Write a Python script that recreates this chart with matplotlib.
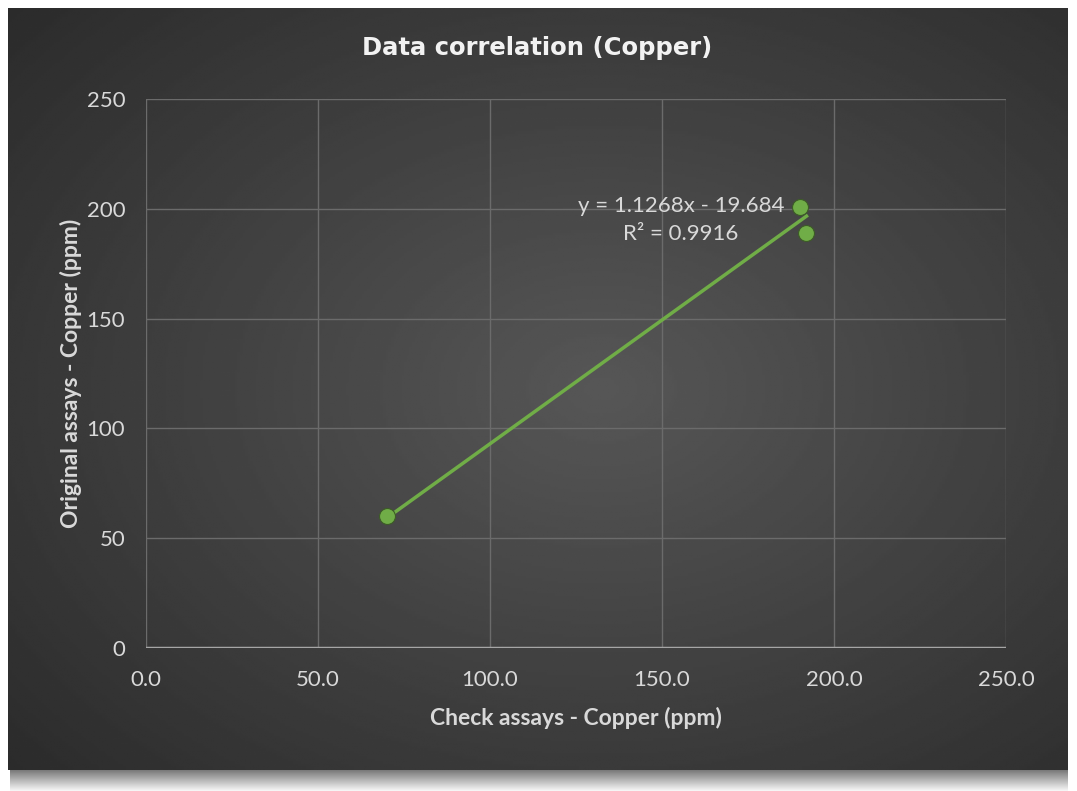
import numpy as np
import matplotlib
matplotlib.use("Agg")
import matplotlib.pyplot as plt

# check assays (x) vs original assays (y), copper ppm
check_cu = [70.0, 190.0, 192.0]
orig_cu = [60.0, 201.0, 189.0]
slope = 1.1268
intercept = -19.684
r2 = 0.9916
xticks = [0, 50, 100, 150, 200, 250]
yticks = [0, 50, 100, 150, 200, 250]

plt.rcParams['font.family'] = ['Lato', 'DejaVu Sans']

W, H = 1077, 791
fig = plt.figure(figsize=(W / 100, H / 100), dpi=100, facecolor="white")

# shadow strip below the chart
sh = fig.add_axes([10 / W, 0, 1058 / W, 22 / H])
sh.axis("off")
g = np.linspace(0.45, 0.97, 50)[:, None] * np.ones((1, 10))
sh.imshow(g, cmap="gray", vmin=0, vmax=1, aspect="auto", extent=[0, 1, 0, 1], origin="upper")

# dark chart background with radial gradient
bg = fig.add_axes([8 / W, 21 / H, 1060 / W, 762 / H])
bg.axis("off")
yy, xx = np.mgrid[0:1:300j, 0:1:400j]
rr = np.sqrt(((xx - 0.56) / 0.75) ** 2 + ((yy - 0.5) / 0.75) ** 2)
shade = 0.34 - 0.17 * np.clip(rr, 0, 1)
bg.imshow(shade, cmap="gray", vmin=0, vmax=1, aspect="auto", extent=[0, 1, 0, 1])

ax = fig.add_axes([146 / W, (H - 648) / H, 860 / W, 549 / H])
ax.patch.set_alpha(0)
for s in ax.spines.values():
    s.set_visible(False)
ax.set_xlim(0, 250)
ax.set_ylim(0, 250)
ax.set_xticks(xticks)
ax.set_yticks(yticks)
ax.set_xticklabels(["%.1f" % v for v in xticks])
ax.set_yticklabels([str(v) for v in yticks])
ax.tick_params(length=0, colors="#d9d9d9", labelsize=16)
ax.tick_params(axis="x", pad=16)
ax.tick_params(axis="y", pad=15)
ax.grid(True, color="#6b6b6b", lw=1)
ax.set_axisbelow(True)
ax.axhline(0, color="#a6a6a6", lw=2.5, zorder=2)

xs = np.array([min(check_cu), max(check_cu)])
ax.plot(xs, slope * xs + intercept, color="#70ad47", lw=2.5, zorder=3)
ax.plot(check_cu, orig_cu, "o", color="#70ad47", ms=11.5, mec="#3d5c27", mew=0.8, zorder=4)

ax.text(155.5, 201.5, "y = %.4fx - %.3f" % (slope, -intercept), color="#d9d9d9",
        fontsize=16, ha="center", va="center")
ax.text(155.5, 188.5, "R² = %.4f" % r2, color="#d9d9d9", fontsize=16, ha="center", va="center")

ax.set_xlabel("Check assays - Copper (ppm)", color="#d9d9d9", fontsize=16.5,
              fontweight="bold", labelpad=12)
ax.set_ylabel("Original assays - Copper (ppm)", color="#d9d9d9", fontsize=16.5,
              fontweight="bold", labelpad=3)

fig.text(537 / W, 1 - 48 / H, "Data correlation (Copper)", color="#f2f2f2",
         fontsize=17.5, fontweight="bold", ha="center", va="center",
         family=["DejaVu Sans"])

fig.savefig("out.png", dpi=100, facecolor="white")
